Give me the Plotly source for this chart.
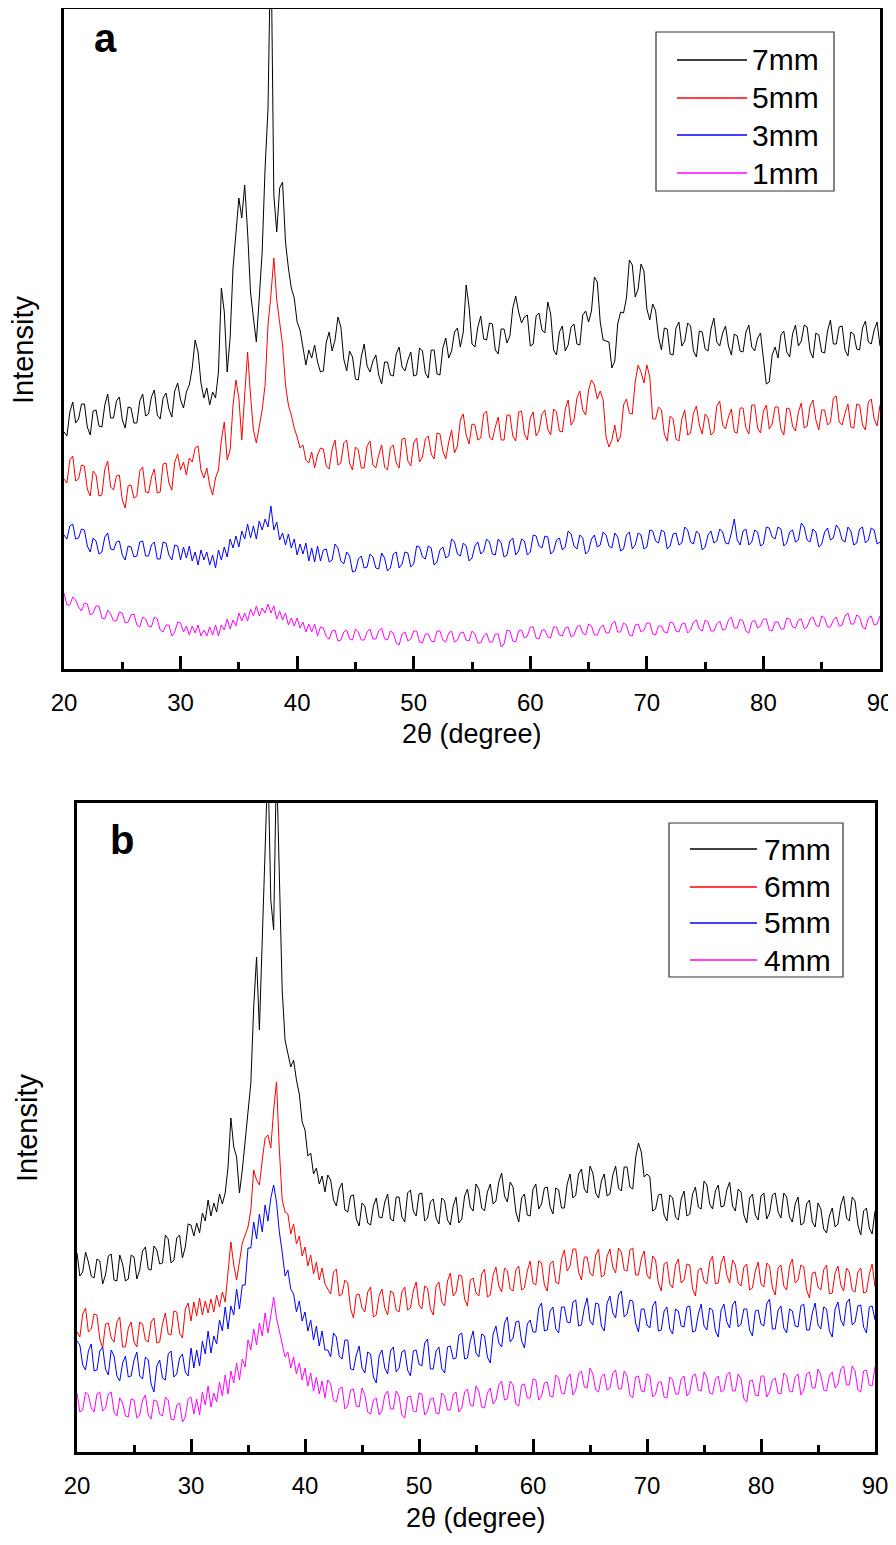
import plotly.graph_objects as go

# ---------------- data ----------------
# 2-theta grid (degrees), 0.25 deg steps from 20 to 90
two_theta = [20 + 0.25 * i for i in range(281)]

# Panel a intensities (a.u.)
a_7mm = [237, 233, 257, 267, 246, 250, 265, 265, 242, 234, 258, 259, 243, 242, 264, 275, 251, 251, 268, 272,
         249, 241, 262, 261, 246, 246, 268, 275, 253, 255, 272, 279, 254, 250, 271, 276, 260, 252, 278, 286,
         269, 261, 277, 284, 301, 329, 317, 286, 271, 281, 264, 277, 271, 297, 381, 357, 297, 331, 401, 441,
         471, 451, 484, 437, 377, 351, 327, 371, 417, 501, 560, 740, 474, 437, 481, 487, 427, 401, 381, 371,
         347, 339, 321, 304, 319, 311, 324, 307,
         297, 298, 327, 337, 318, 329, 352, 342, 310, 298, 318, 312, 290, 289, 312, 325, 303, 297, 308, 314,
         294, 285, 307, 307, 294, 293, 315, 322, 302, 298, 309, 317, 293, 294, 321, 318, 296, 291, 319, 319,
         295, 294, 321, 331, 311, 318, 337, 341, 322, 337, 384, 362, 325, 322, 342, 353, 330, 329, 346, 345,
         319, 315, 340, 340, 326, 333, 361, 373, 357, 346, 352, 354, 323, 325, 353, 356, 339, 336, 367, 355,
         319, 314, 337, 343, 318, 324, 342, 345, 325, 324, 354, 358, 347, 358, 392, 387, 347, 329, 328, 327,
         301, 308, 345, 357, 356, 371, 409, 404, 372, 380, 405, 398, 360, 349, 365, 358, 332, 319, 341, 340,
         315, 314, 341, 347, 323, 328, 346, 343, 318, 312, 338, 337, 320, 318, 340, 351, 327, 323, 336, 343,
         323, 314, 335, 333, 318, 317, 337, 344, 322, 318, 331, 336, 310, 285, 287, 314, 322, 311, 334, 338,
         317, 312, 335, 344, 323, 328, 344, 342, 318, 311, 336, 334, 317, 316, 338, 349, 325, 325, 342, 343,
         319, 313, 337, 335, 320, 319, 341, 348, 327, 325, 339, 347, 323]
a_5mm = [190, 186, 209, 213, 188, 190, 204, 203, 180, 173, 198, 194, 173, 174, 200, 208, 182, 179, 193, 194,
         169, 161, 183, 184, 171, 173, 198, 202, 177, 176, 192, 200, 176, 177, 205, 206, 186, 179, 207, 215,
         199, 207, 194, 211, 207, 221, 223, 199, 191, 201, 184, 174, 191, 199, 229, 247, 209, 219, 264, 289,
         271, 229, 274, 317, 274, 239, 226, 244, 259, 284, 344, 374, 411, 369, 349, 324, 284, 264, 254, 241,
         232, 221, 224, 209, 206, 217, 201, 214,
         221, 220, 203, 200, 220, 229, 204, 206, 226, 229, 206, 199, 222, 219, 201, 201, 223, 228, 204, 201,
         214, 224, 202, 199, 221, 224, 206, 201, 230, 231, 208, 203, 226, 231, 207, 212, 230, 233, 215, 210,
         236, 235, 218, 210, 227, 239, 216, 223, 249, 255, 234, 225, 245, 244, 229, 231, 255, 258, 232, 229,
         242, 252, 229, 229, 254, 254, 233, 228, 257, 258, 235, 229, 251, 257, 233, 238, 255, 259, 240, 234,
         260, 257, 238, 237, 260, 269, 244, 249, 271, 278, 259, 254, 279, 289, 284, 270, 278, 269, 232, 222,
         229, 244, 227, 233, 264, 270, 256, 255, 287, 304, 297, 286, 304, 292, 250, 250, 262, 259, 235, 228,
         253, 250, 230, 228, 250, 259, 234, 236, 256, 263, 244, 235, 255, 251, 234, 237, 263, 268, 244, 240,
         252, 260, 237, 236, 261, 261, 241, 235, 264, 264, 241, 236, 258, 264, 240, 245, 262, 262, 240, 234,
         261, 260, 243, 238, 257, 266, 241, 243, 263, 269, 249, 239, 259, 259, 244, 247, 271, 273, 247, 244,
         256, 265, 242, 241, 265, 264, 244, 239, 267, 270, 250, 243, 264]
a_3mm = [134, 130, 143, 145, 130, 131, 140, 139, 123, 117, 131, 128, 115, 117, 132, 136, 120, 119, 127, 128,
         114, 109, 123, 122, 112, 113, 127, 128, 113, 113, 124, 127, 110, 110, 127, 126, 114, 109, 124, 123,
         109, 122, 111, 123, 108, 117, 104, 119, 109, 117, 104, 114, 101, 119, 109, 122, 112, 130, 121, 133,
         122, 138, 130, 145, 131, 143, 130, 148, 139, 150, 142, 163, 139, 147, 129, 136, 124, 135, 121, 130,
         114, 125, 115, 126, 108, 121, 107, 123,
         108, 119, 120, 107, 109, 125, 121, 108, 105, 117, 113, 97, 98, 110, 113, 101, 102, 115, 112, 101,
         100, 116, 111, 98, 101, 115, 117, 101, 105, 117, 116, 102, 105, 123, 122, 112, 110, 123, 121, 104,
         107, 119, 122, 111, 113, 130, 127, 115, 113, 126, 123, 108, 111, 123, 127, 115, 118, 130, 127, 115,
         114, 130, 126, 112, 114, 128, 131, 114, 118, 130, 128, 114, 117, 134, 133, 123, 121, 133, 132, 115,
         118, 129, 131, 119, 122, 138, 135, 123, 120, 134, 131, 115, 118, 130, 134, 122, 124, 137, 134, 123,
         121, 136, 132, 118, 120, 134, 137, 120, 124, 136, 134, 120, 122, 139, 138, 128, 126, 139, 137, 120,
         123, 135, 136, 124, 126, 142, 139, 127, 125, 138, 135, 119, 122, 134, 138, 126, 128, 140, 137, 126,
         125, 136, 150, 129, 124, 138, 140, 124, 127, 139, 137, 123, 125, 142, 141, 132, 130, 142, 140, 123,
         126, 137, 139, 127, 129, 146, 142, 129, 127, 140, 137, 122, 125, 137, 141, 129, 131, 144, 140, 129,
         127, 142, 138, 124, 126, 140, 142, 126, 129, 141, 139, 125, 127]
a_1mm = [76, 64, 64, 72, 69, 62, 58, 66, 65, 54, 56, 63, 63, 51, 50, 59, 55, 48, 48, 57,
         56, 46, 47, 54, 55, 44, 42, 52, 50, 43, 42, 52, 50, 39, 37, 44, 44, 33, 37, 47,
         46, 37, 43, 34, 43, 36, 44, 33, 39, 33, 42, 34, 44, 33, 44, 39, 50, 40, 49, 43,
         56, 48, 56, 48, 60, 53, 63, 53, 61, 56, 65, 56, 63, 50, 58, 49, 56, 44, 51, 43,
         51, 41, 47, 37, 45, 37, 45, 33,
         42, 41, 32, 30, 38, 39, 28, 29, 37, 39, 30, 29, 40, 37, 29, 29, 37, 40, 30, 30,
         38, 41, 30, 29, 38, 36, 26, 24, 35, 37, 28, 30, 38, 38, 27, 26, 35, 35, 28, 27,
         38, 38, 29, 27, 36, 38, 27, 29, 36, 37, 29, 28, 38, 35, 26, 26, 33, 36, 27, 27,
         35, 35, 22, 25, 39, 38, 28, 27, 38, 39, 31, 33, 42, 42, 31, 30, 39, 39, 32, 31,
         42, 42, 34, 33, 41, 42, 32, 34, 42, 44, 36, 34, 45, 43, 34, 34, 41, 44, 36, 36,
         45, 48, 37, 37, 46, 44, 34, 33, 44, 45, 37, 39, 46, 46, 35, 34, 43, 43, 37, 36,
         47, 46, 38, 37, 45, 46, 36, 39, 47, 49, 40, 38, 49, 47, 38, 38, 45, 48, 39, 40,
         49, 52, 41, 41, 50, 48, 38, 36, 47, 49, 41, 43, 50, 50, 39, 38, 47, 47, 40, 40,
         51, 50, 42, 41, 49, 50, 40, 42, 50, 52, 44, 42, 53, 51, 42, 42, 49, 52, 43, 44,
         53, 56, 45, 45, 54, 52, 42, 40, 51, 53, 44, 45, 53]

# Panel b intensities (a.u.)
b_7mm = [199, 176, 180, 200, 190, 176, 174, 193, 191, 168, 177, 196, 198, 172, 171, 197, 188, 171, 173, 197,
         195, 173, 182, 201, 205, 183, 182, 206, 202, 188, 189, 217, 213, 189, 192, 214, 217, 194, 205, 228,
         227, 216, 229, 219, 239, 231, 252, 236, 249, 240, 258, 248, 259, 285, 334, 305, 295, 259, 282, 312,
         335, 369, 445, 495, 422, 502, 585, 692, 552, 522, 692, 585, 462, 412, 398, 385, 392, 372, 358, 330,
         322, 296, 299, 278, 284, 268, 276, 260,
         277, 272, 252, 246, 263, 269, 242, 240, 256, 257, 233, 226, 249, 246, 229, 227, 246, 254, 235, 234,
         250, 258, 233, 231, 255, 255, 235, 230, 259, 262, 241, 236, 258, 259, 231, 234, 250, 253, 234, 228,
         254, 251, 232, 227, 246, 255, 229, 233, 256, 263, 245, 241, 268, 263, 244, 241, 260, 268, 248, 251,
         270, 279, 256, 250, 270, 265, 240, 230, 254, 258, 237, 236, 263, 268, 243, 248, 264, 265, 245, 238,
         264, 262, 244, 244, 268, 278, 254, 257, 278, 283, 263, 259, 286, 279, 259, 254, 271, 278, 256, 258,
         277, 286, 264, 261, 285, 285, 265, 263, 294, 309, 300, 275, 278, 275, 241, 243, 257, 258, 237, 231,
         257, 254, 235, 232, 253, 261, 236, 238, 258, 265, 245, 243, 271, 267, 248, 243, 261, 267, 245, 246,
         262, 270, 246, 241, 263, 260, 237, 229, 254, 258, 237, 232, 256, 259, 233, 239, 257, 259, 240, 234,
         259, 255, 235, 230, 248, 255, 227, 229, 248, 252, 230, 225, 249, 243, 223, 219, 236, 244, 225, 228,
         247, 256, 234, 231, 255, 251, 227, 217, 241, 244, 224, 218, 241]
b_6mm = [120, 115, 138, 144, 120, 123, 138, 137, 113, 104, 128, 129, 114, 110, 130, 135, 105, 105, 124, 130,
         110, 105, 130, 128, 112, 110, 130, 134, 109, 110, 128, 139, 118, 117, 141, 140, 119, 114, 143, 149,
         131, 150, 136, 154, 137, 151, 139, 153, 140, 157, 145, 160, 150, 177, 210, 187, 172, 190, 209, 217,
         225, 242, 282, 272, 267, 292, 314, 317, 304, 342, 370, 302, 252, 240, 238, 218, 228, 208, 216, 196,
         205, 186, 197, 178, 190, 172, 184, 168,
         163, 158, 180, 183, 156, 158, 172, 169, 143, 134, 157, 158, 144, 140, 160, 165, 135, 137, 156, 163,
         144, 137, 161, 159, 142, 140, 160, 165, 142, 144, 161, 170, 147, 143, 166, 164, 143, 137, 166, 170,
         150, 146, 171, 179, 156, 160, 177, 176, 153, 146, 172, 174, 159, 156, 178, 183, 155, 157, 177, 185,
         166, 160, 184, 181, 163, 161, 182, 186, 162, 164, 181, 191, 169, 167, 191, 189, 167, 161, 188, 191,
         170, 168, 193, 202, 181, 186, 203, 203, 180, 172, 195, 195, 179, 176, 197, 203, 175, 177, 196, 203,
         185, 179, 204, 200, 182, 181, 202, 204, 177, 177, 193, 201, 177, 173, 196, 192, 169, 161, 188, 190,
         168, 164, 187, 193, 169, 172, 188, 187, 163, 156, 182, 184, 171, 168, 190, 196, 168, 169, 189, 196,
         177, 169, 192, 187, 169, 166, 185, 188, 162, 164, 181, 190, 168, 165, 189, 186, 164, 157, 184, 187,
         166, 162, 186, 193, 169, 172, 187, 185, 162, 154, 179, 180, 165, 162, 182, 187, 158, 159, 179, 186,
         167, 161, 184, 180, 162, 160, 180, 184, 159, 160, 178, 188, 165]
b_5mm = [111, 107, 87, 82, 101, 108, 81, 82, 101, 105, 83, 77, 102, 96, 76, 71, 89, 96, 75, 76,
         92, 100, 76, 73, 95, 92, 68, 60, 86, 92, 74, 72, 98, 101, 75, 78, 94, 98, 80, 76,
         104, 84, 102, 86, 111, 98, 121, 99, 116, 108, 132, 121, 145, 123, 146, 137, 163, 143, 167, 167,
         204, 204, 230, 213, 238, 220, 247, 231, 254, 267, 250, 220, 200, 176, 182, 163, 158, 140, 151, 131,
         140, 121, 132, 112, 126, 106, 121, 102,
         102, 95, 119, 115, 96, 93, 112, 112, 83, 82, 97, 106, 84, 79, 100, 98, 75, 69, 96, 102,
         84, 78, 101, 105, 80, 84, 100, 102, 82, 76, 101, 102, 88, 86, 109, 113, 83, 83, 101, 105,
         83, 79, 105, 106, 93, 94, 117, 119, 93, 94, 111, 121, 99, 95, 118, 116, 95, 89, 118, 126,
         109, 105, 129, 135, 110, 114, 130, 131, 111, 104, 128, 132, 120, 120, 144, 149, 121, 122, 141, 145,
         123, 119, 145, 145, 130, 129, 150, 152, 126, 127, 144, 154, 131, 127, 149, 148, 126, 121, 149, 156,
         139, 134, 157, 161, 135, 138, 152, 151, 129, 120, 143, 143, 127, 124, 146, 151, 121, 122, 141, 145,
         123, 118, 143, 141, 126, 125, 145, 146, 120, 121, 138, 148, 126, 122, 144, 142, 121, 115, 142, 148,
         130, 124, 147, 151, 125, 128, 143, 143, 122, 116, 141, 142, 128, 126, 148, 153, 123, 123, 142, 146,
         124, 119, 143, 141, 126, 125, 146, 148, 122, 122, 139, 149, 127, 123, 145, 143, 121, 115, 143, 150,
         132, 126, 149, 153, 127, 130, 146, 147, 125, 119, 145, 146, 132]
b_4mm = [59, 40, 42, 60, 57, 44, 40, 58, 60, 41, 44, 58, 60, 40, 36, 54, 49, 36, 35, 53,
         52, 34, 37, 52, 57, 37, 33, 52, 51, 38, 36, 55, 52, 33, 32, 47, 49, 30, 35, 53,
         55, 38, 53, 37, 60, 47, 66, 45, 59, 50, 70, 56, 77, 58, 81, 69, 89, 72, 93, 85,
         112, 102, 123, 107, 129, 116, 139, 119, 136, 155, 134, 121, 108, 95, 100, 84, 95, 78, 89, 72,
         84, 66, 79, 61, 75, 58, 71, 54,
         72, 68, 52, 50, 63, 65, 43, 46, 62, 63, 46, 45, 64, 57, 40, 38, 52, 54, 37, 41,
         57, 61, 43, 43, 61, 56, 37, 34, 55, 56, 41, 40, 59, 58, 37, 41, 53, 54, 39, 38,
         59, 56, 42, 42, 57, 60, 40, 44, 60, 63, 47, 46, 66, 61, 45, 44, 59, 64, 48, 52,
         67, 71, 52, 53, 71, 67, 48, 46, 67, 68, 54, 54, 73, 72, 52, 56, 69, 70, 56, 55,
         77, 74, 59, 58, 74, 78, 57, 62, 78, 81, 65, 64, 84, 78, 62, 60, 75, 78, 62, 64,
         79, 82, 63, 63, 81, 76, 57, 54, 75, 76, 61, 60, 78, 76, 55, 58, 70, 70, 55, 54,
         75, 72, 58, 58, 73, 76, 56, 60, 76, 78, 62, 61, 80, 75, 59, 58, 73, 76, 60, 62,
         77, 80, 61, 61, 78, 73, 53, 50, 71, 72, 57, 56, 76, 76, 55, 60, 72, 74, 59, 58,
         79, 76, 61, 60, 75, 78, 57, 62, 78, 80, 64, 64, 83, 77, 62, 61, 76, 80, 64, 68,
         83, 86, 67, 67, 86, 81, 62, 60, 81, 82, 67, 66, 85]

labels_a = ["7mm", "5mm", "3mm", "1mm"]
labels_b = ["7mm", "6mm", "5mm", "4mm"]
colors = ["#000000", "#ff0000", "#0000ff", "#ff00ff"]
x_ticks = [20, 30, 40, 50, 60, 70, 80, 90]

for s in (a_7mm, a_5mm, a_3mm, a_1mm, b_7mm, b_6mm, b_5mm, b_4mm):
    assert len(s) == len(two_theta), len(s)

# ---------------- figure ----------------
# The page body adds an 8 px offset; the figure is sized/positioned so that
# screen pixel coordinates match the reference.
OFF = 8
W, H = 896 - OFF, 1545 - OFF
FONT = "Arial, 'Liberation Sans', sans-serif"


def fx(p):
    return (p - OFF) / W


def fy(p):
    return min(1.0, 1 - (p - OFF) / H)


fig = go.Figure()
for lab, vals, col in zip(labels_a, [a_7mm, a_5mm, a_3mm, a_1mm], colors):
    fig.add_trace(go.Scatter(x=two_theta, y=vals, mode="lines", name=lab,
                             line=dict(color=col, width=1), xaxis="x", yaxis="y",
                             showlegend=False))
for lab, vals, col in zip(labels_b, [b_7mm, b_6mm, b_5mm, b_4mm], colors):
    fig.add_trace(go.Scatter(x=two_theta, y=vals, mode="lines", name=lab,
                             line=dict(color=col, width=1), xaxis="x2", yaxis="y2",
                             showlegend=False))

xcommon = dict(range=[20, 90], tickvals=x_ticks, ticks="inside", ticklen=13, tickwidth=2.5,
               tickcolor="black", showline=True, linewidth=2.5, linecolor="black", mirror=True,
               showgrid=False, zeroline=False, tickfont=dict(size=24, color="black", family=FONT),
               ticklabelstandoff=10, automargin=False,
               minor=dict(dtick=5, tick0=20, ticks="inside", ticklen=7, tickwidth=2.5,
                          tickcolor="black", showgrid=False))
ycommon = dict(showticklabels=False, ticks="", showline=True, linewidth=2.5, linecolor="black",
               mirror=True, showgrid=False, zeroline=False, automargin=False)

# panel a: frame top can only reach the page offset, keep the same scale (1 unit = 1 px)
a_top = max(4, OFF + 1)
fig.update_layout(
    template="none",
    width=W, height=H, autosize=False,
    margin=dict(l=0, r=0, t=0, b=0, pad=0, autoexpand=False),
    paper_bgcolor="white", plot_bgcolor="white",
    font=dict(family=FONT, color="black"),
    showlegend=False,
    xaxis=dict(domain=[fx(64), fx(880)], anchor="y", **xcommon),
    yaxis=dict(domain=[fy(669), fy(a_top)], anchor="x", range=[0, 669 - a_top], **ycommon),
    xaxis2=dict(domain=[fx(77), fx(875)], anchor="y2", **xcommon),
    yaxis2=dict(domain=[fy(1452), fy(803)], anchor="x2", range=[0, 649], **ycommon),
)

ann = []
shapes = []


def text(x, y, s, size, bold=False, angle=0, xanchor="center"):
    ann.append(dict(xref="paper", yref="paper", x=fx(x), y=fy(y), text=f"<b>{s}</b>" if bold else s,
                    showarrow=False, xanchor=xanchor, yanchor="middle", textangle=angle,
                    font=dict(size=size, family=FONT, color="black")))


# panel labels and axis titles
text(105, 38, "a", 40, bold=True)
text(122, 840, "b", 40, bold=True)
text(23, 350, "Intensity", 29, angle=-90)
text(27, 1128, "Intensity", 29, angle=-90)
text(472, 734, "2θ (degree)", 27)
text(476, 1518, "2θ (degree)", 27)


def legend(box, rows, line_x, text_x, labels):
    x0, y0, x1, y1 = box
    shapes.append(dict(type="rect", xref="paper", yref="paper", x0=fx(x0), x1=fx(x1),
                       y0=fy(y1), y1=fy(y0), line=dict(color="#333333", width=1.2),
                       fillcolor="white", layer="above"))
    for lab, col, ry in zip(labels, colors, rows):
        shapes.append(dict(type="line", xref="paper", yref="paper", x0=fx(line_x[0]), x1=fx(line_x[1]),
                           y0=fy(ry), y1=fy(ry), line=dict(color=col, width=1.5), layer="above"))
        text(text_x, ry, lab, 30, xanchor="left")


legend((656, 32, 834, 191), [60, 98, 135, 173], (677, 747), 750, labels_a)
legend((669, 823, 843, 977), [849, 887, 923, 960], (690, 757), 762, labels_b)

fig.update_layout(annotations=ann, shapes=shapes)
fig.write_html("out.html")
